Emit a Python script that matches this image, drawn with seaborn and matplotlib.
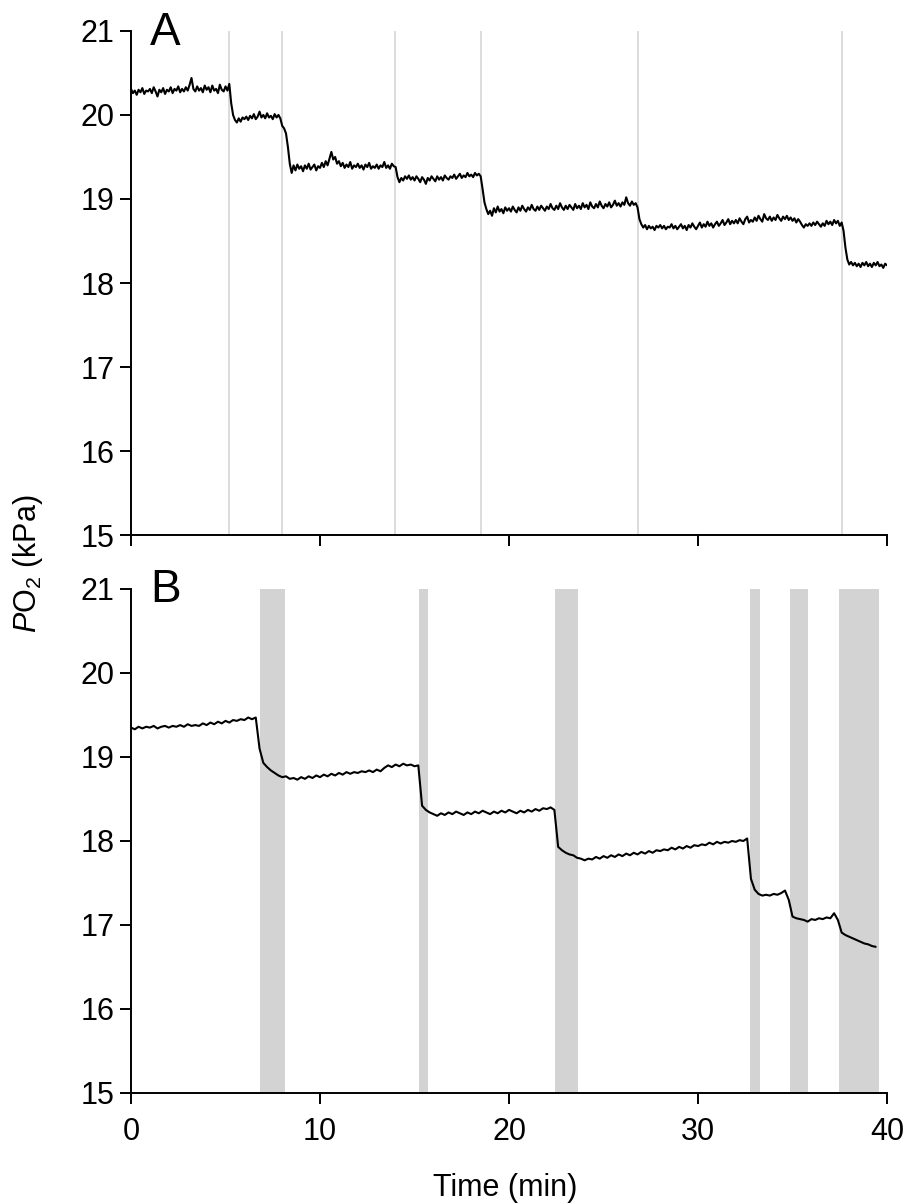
import numpy as np
import pandas as pd
import matplotlib
matplotlib.use("Agg")
import matplotlib.pyplot as plt
import seaborn as sns

# Panel A: PO2 trace, every 0.1 min (one row = one minute)
po2_a = [
    20.31, 20.26, 20.29, 20.24, 20.30, 20.27, 20.32, 20.25, 20.29, 20.28,
    20.31, 20.26, 20.33, 20.28, 20.22, 20.30, 20.27, 20.32, 20.25, 20.30,
    20.28, 20.33, 20.26, 20.31, 20.29, 20.34, 20.27, 20.31, 20.28, 20.33,
    20.29, 20.36, 20.44, 20.31, 20.28, 20.34, 20.29, 20.32, 20.27, 20.35,
    20.30, 20.33, 20.27, 20.35, 20.29, 20.31, 20.26, 20.36, 20.30, 20.28,
    20.34, 20.29, 20.37, 20.14, 20.00, 19.94, 19.91, 19.96, 19.92, 19.97,
    19.95, 19.98, 19.94, 19.99, 19.96, 20.01, 19.95, 19.98, 20.04, 19.97,
    20.00, 19.96, 20.02, 19.97, 19.99, 19.95, 20.01, 19.97, 20.00, 19.96,
    19.87, 19.84, 19.78, 19.62, 19.42, 19.31, 19.40, 19.34, 19.41, 19.36,
    19.39, 19.33, 19.40, 19.36, 19.42, 19.35, 19.38, 19.41, 19.34, 19.39,
    19.37, 19.43, 19.38, 19.45, 19.40, 19.48, 19.56, 19.47, 19.50, 19.42,
    19.45, 19.39, 19.43, 19.37, 19.41, 19.38, 19.44, 19.36, 19.40, 19.38,
    19.42, 19.37, 19.40, 19.35, 19.41, 19.38, 19.43, 19.36, 19.39, 19.37,
    19.41, 19.36, 19.40, 19.38, 19.44, 19.37, 19.40, 19.36, 19.42, 19.39,
    19.38, 19.26, 19.20, 19.25, 19.22, 19.27, 19.24, 19.28, 19.23, 19.26,
    19.22, 19.27, 19.24, 19.20, 19.26, 19.23, 19.18, 19.25, 19.22, 19.27,
    19.24, 19.21, 19.27, 19.23, 19.26, 19.22, 19.28, 19.25, 19.23, 19.27,
    19.25, 19.29, 19.24, 19.27, 19.30, 19.25, 19.28, 19.26, 19.31, 19.27,
    19.29, 19.26, 19.31, 19.28, 19.30, 19.27, 19.12, 18.96, 18.88, 18.82,
    18.86, 18.80, 18.89, 18.84, 18.91, 18.85, 18.88, 18.83, 18.90, 18.86,
    18.89, 18.85, 18.91, 18.87, 18.84, 18.90, 18.86, 18.92, 18.88, 18.85,
    18.90, 18.87, 18.93, 18.88, 18.86, 18.91, 18.87, 18.92, 18.89, 18.86,
    18.91, 18.88, 18.94, 18.89, 18.87, 18.92, 18.88, 18.95, 18.90, 18.87,
    18.92, 18.88, 18.93, 18.90, 18.87, 18.94, 18.89, 18.92, 18.88, 18.95,
    18.90, 18.93, 18.88, 18.96, 18.91, 18.89, 18.94, 18.90, 18.97, 18.92,
    18.89, 18.94, 18.91, 18.96, 18.90, 18.93, 18.98, 18.92, 18.95, 18.91,
    18.96, 18.93, 19.02, 18.95, 18.92, 18.97, 18.93, 18.95, 18.90, 18.76,
    18.70, 18.66, 18.69, 18.64, 18.68, 18.65, 18.67, 18.63, 18.68, 18.66,
    18.69, 18.65, 18.68, 18.64, 18.67, 18.66, 18.70, 18.65, 18.68, 18.64,
    18.67, 18.70, 18.65, 18.68, 18.63, 18.69, 18.66, 18.71, 18.67, 18.64,
    18.68, 18.72, 18.66, 18.70, 18.67, 18.73, 18.68, 18.71, 18.66, 18.70,
    18.73, 18.68, 18.71, 18.75, 18.69, 18.72, 18.76, 18.70, 18.74, 18.71,
    18.75, 18.71, 18.77, 18.73, 18.70, 18.76, 18.79, 18.72, 18.75, 18.73,
    18.78, 18.74, 18.80, 18.76, 18.73, 18.82, 18.77, 18.75, 18.79, 18.74,
    18.78, 18.75, 18.81, 18.77, 18.74, 18.79, 18.76, 18.80, 18.75, 18.78,
    18.74, 18.77, 18.72, 18.76, 18.73, 18.69, 18.66, 18.70, 18.68, 18.71,
    18.68, 18.72, 18.69, 18.73, 18.70, 18.67, 18.71, 18.68, 18.74, 18.70,
    18.73, 18.69, 18.75, 18.71, 18.74, 18.68, 18.72, 18.62, 18.42, 18.28,
    18.22, 18.25, 18.21, 18.24, 18.20, 18.23, 18.19, 18.24, 18.21, 18.25,
    18.20, 18.23, 18.19, 18.24, 18.21, 18.25, 18.20, 18.22, 18.18, 18.23,
    18.21,
]
time_a = np.round(np.arange(len(po2_a)) * 0.1, 1)
events_a = [5.19, 7.99, 13.97, 18.52, 26.83, 37.62]

# Panel B: PO2 trace every 0.2 min (one row = two minutes)
po2_b = [
    19.35, 19.33, 19.36, 19.34, 19.36, 19.35, 19.37, 19.34, 19.36, 19.37,
    19.35, 19.37, 19.36, 19.38, 19.36, 19.39, 19.37, 19.38, 19.37, 19.40,
    19.38, 19.41, 19.39, 19.42, 19.40, 19.43, 19.41, 19.44, 19.43, 19.45,
    19.44, 19.47, 19.45, 19.47, 19.10, 18.93, 18.88, 18.84, 18.81, 18.78,
    18.76, 18.77, 18.74, 18.75, 18.73, 18.76, 18.74, 18.77, 18.75, 18.78,
    18.76, 18.79, 18.77, 18.80, 18.78, 18.81, 18.79, 18.82, 18.80, 18.82,
    18.81, 18.83, 18.82, 18.84, 18.82, 18.85, 18.83, 18.87, 18.90, 18.88,
    18.91, 18.89, 18.92, 18.90, 18.91, 18.89, 18.90, 18.42, 18.37, 18.34,
    18.32, 18.30, 18.33, 18.31, 18.34, 18.32, 18.35, 18.33, 18.31, 18.34,
    18.32, 18.35, 18.33, 18.36, 18.34, 18.32, 18.35, 18.33, 18.36, 18.34,
    18.37, 18.35, 18.33, 18.36, 18.34, 18.37, 18.35, 18.38, 18.36, 18.39,
    18.38, 18.40, 18.37, 17.93, 17.89, 17.86, 17.84, 17.83, 17.80, 17.79,
    17.77, 17.79, 17.78, 17.81, 17.79, 17.82, 17.80, 17.83, 17.81, 17.84,
    17.82, 17.85, 17.83, 17.86, 17.84, 17.87, 17.85, 17.88, 17.86, 17.89,
    17.88, 17.90, 17.89, 17.92, 17.90, 17.93, 17.91, 17.94, 17.92, 17.95,
    17.94, 17.96, 17.95, 17.98, 17.96, 17.99, 17.97, 17.99, 17.98, 18.00,
    17.99, 18.01, 18.00, 18.03, 17.55, 17.42, 17.37, 17.35, 17.36, 17.35,
    17.37, 17.36, 17.38, 17.41, 17.30, 17.10, 17.08, 17.07, 17.06, 17.04,
    17.07, 17.06, 17.08, 17.07, 17.09, 17.08, 17.14, 17.06, 16.91, 16.88,
    16.86, 16.84, 16.82, 16.80, 16.78, 16.77, 16.75, 16.74,
]
time_b = np.round(np.arange(len(po2_b)) * 0.2, 1)
spans_b = [(6.81, 8.16), (15.24, 15.71), (22.43, 23.65),
           (32.73, 33.29), (34.87, 35.82), (37.46, 39.58)]

x_ticks = [0, 10, 20, 30, 40]
y_ticks = [15, 16, 17, 18, 19, 20, 21]

sns.set_style("ticks")
plt.rcParams['font.family'] = ['Liberation Sans', 'DejaVu Sans']
plt.rcParams['text.color'] = 'black'
plt.rcParams['mathtext.fontset'] = 'custom'
plt.rcParams['mathtext.rm'] = 'Liberation Sans'
plt.rcParams['mathtext.it'] = 'Liberation Sans:italic'

fig = plt.figure(figsize=(9.08, 12.04), dpi=100)
ax_a = fig.add_axes([0.1443, 0.5556, 0.8326, 0.4187])
ax_b = fig.add_axes([0.1443, 0.0922, 0.8326, 0.4186])

df_a = pd.DataFrame({"t": time_a, "po2": po2_a})
df_b = pd.DataFrame({"t": time_b, "po2": po2_b})

for x in events_a:
    ax_a.axvline(x, color='#d9d9d9', lw=1.3, zorder=0)
for a, b in spans_b:
    ax_b.axvspan(a, b, color='#d3d3d3', lw=0, zorder=0)

sns.lineplot(data=df_a, x="t", y="po2", ax=ax_a, color='black', lw=1.5)
sns.lineplot(data=df_b, x="t", y="po2", ax=ax_b, color='black', lw=1.5)

for ax in (ax_a, ax_b):
    ax.set_xlim(0, 40)
    ax.set_ylim(15, 21)
    ax.set_xticks(x_ticks)
    ax.set_yticks(y_ticks)
    ax.set_xlabel("")
    ax.set_ylabel("")
    sns.despine(ax=ax)
    for s in ("left", "bottom"):
        ax.spines[s].set_linewidth(1.4)
        ax.spines[s].set_color('black')
    ax.tick_params(direction='out', length=8, width=1.4, colors='black',
                   labelsize=22, pad=4)
    ax.tick_params(axis='x', pad=9)

ax_a.tick_params(labelbottom=False)

ax_a.text(1.0, 20.83, "A", fontsize=33, va='baseline')
ax_b.text(1.0, 20.84, "B", fontsize=33, va='baseline')

fig.text(0.031, 0.532, r"$\mathit{P}$O$_2$ (kPa)", rotation=90,
         ha='center', va='center', fontsize=22)
fig.text(0.556, 0.0065, "Time (min)", ha='center', va='baseline', fontsize=22)

fig.savefig("out.png", dpi=100)
